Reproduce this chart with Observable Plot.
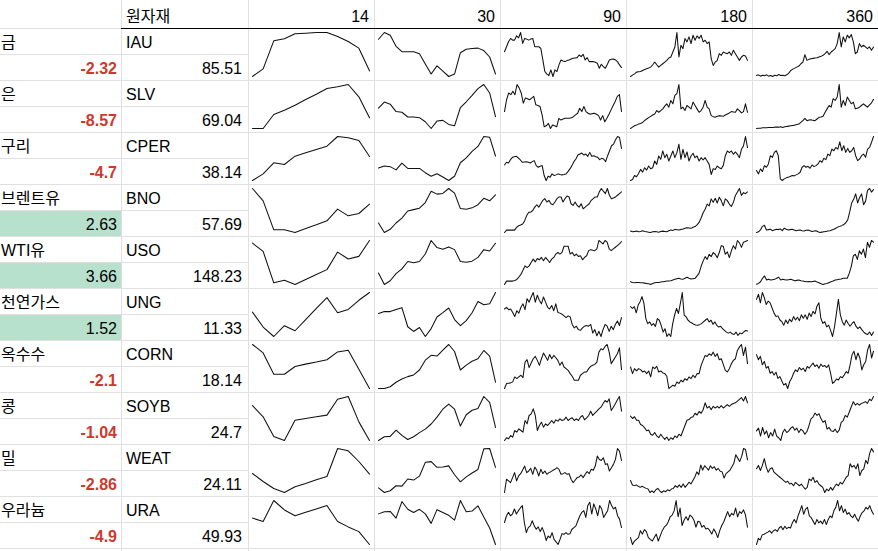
<!DOCTYPE html>
<html>
<head>
<meta charset="utf-8">
<script src="https://cdn.jsdelivr.net/npm/d3@7"></script>
<script src="https://cdn.jsdelivr.net/npm/@observablehq/plot@0.6"></script>
<style>
  body { margin: 0; background: #fff; }
  #sheet { position: relative; width: 878px; height: 551px; overflow: hidden; background: #fff; }
</style>
</head>
<body>
<div id="sheet"></div>
<script>
// ---------- data ----------
const headerLabel = "원자재";
const windows = ["14", "30", "90", "180", "360"];
const names = ["금", "은", "구리", "브렌트유", "WTI유", "천연가스", "옥수수", "콩", "밀", "우라늄"];
const changes = [-2.32, -8.57, -4.7, 2.63, 3.66, 1.52, -2.1, -1.04, -2.86, -4.9];
const tickers = ["IAU", "SLV", "CPER", "BNO", "USO", "UNG", "CORN", "SOYB", "WEAT", "URA"];
const prices = [85.51, 69.04, 38.14, 57.69, 148.23, 11.33, 18.14, 24.7, 24.11, 49.93];

// sparkline series (relative price level), one list per ticker
const spark14 = [
  [0,23,107,113,128,130,132,132,120,105,85,17],            // IAU
  [0,0,42,55,70,87,103,120,125,132,95,32],                 // SLV
  [0,20,53,48,73,83,93,103,132,128,120,72],                // CPER
  [132,95,8,8,0,12,23,35,70,50,57,85],                     // BNO
  [125,100,5,13,0,15,30,45,98,77,85,133],                  // USO
  [72,28,0,32,17,50,83,115,70,80,107,130],                 // UNG
  [130,105,42,42,65,72,78,85,108,113,57,0],                // CORN
  [103,70,12,0,60,65,70,75,122,130,55,0],                  // SOYB
  [57,33,12,0,17,27,38,48,132,125,93,55],                  // WEAT
  [78,68,130,102,85,95,105,115,68,52,38,0]                 // URA
];
const spark30 = [
  [110,129,121,90,75,75,75,69,40,12,35,20,5,12,72,82,84,85,78,60,12],
  [60,78,72,50,48,34,34,32,20,0,22,24,12,8,62,79,98,118,130,105,35],
  [38,44,42,33,52,37,37,37,25,15,22,13,3,15,53,67,85,99,127,125,72],
  [30,3,12,30,44,64,68,72,88,120,112,114,128,115,71,69,73,82,100,93,110],
  [37,3,14,35,49,71,67,71,93,133,112,107,114,106,71,69,72,83,106,102,125],
  [72,77,77,83,88,35,22,33,8,30,62,74,87,55,38,52,74,105,96,99,130],
  [2,2,7,20,29,36,41,55,83,97,95,112,128,108,55,69,80,87,111,95,20],
  [0,11,12,30,15,3,11,23,33,48,68,91,106,91,42,75,88,93,128,111,38],
  [15,2,7,21,20,40,37,48,87,89,73,74,77,52,32,46,57,67,125,126,73],
  [87,93,94,75,122,100,91,100,87,60,99,91,83,69,125,93,95,110,78,47,0]
];
const spark90 = [
  [75,90,105,115,110,110,123,117,133,100,115,113,110,113,115,90,90,90,85,50,15,7,3,20,0,20,15,35,50,47,45,48,50,53,55,56,57,65,60,67,50,57,45,45,45,43,40,25,37,30,25,37,50,52,53,50,45,35,27],
  [50,85,105,100,110,100,130,120,105,75,90,88,85,90,95,70,68,65,40,5,8,15,0,10,8,5,30,25,28,30,30,30,32,35,40,45,60,50,65,50,45,42,44,45,42,38,25,38,20,30,42,55,68,80,95,100,50],
  [47,55,53,63,70,72,73,68,62,55,56,57,55,53,57,60,45,40,43,45,15,0,13,10,20,15,17,20,18,17,18,20,27,35,45,57,65,77,80,83,77,80,73,85,73,75,72,70,63,67,65,57,75,90,105,110,123,133,130,97],
  [0,7,7,7,7,7,15,20,22,25,35,50,60,60,65,75,82,75,85,95,100,90,95,85,82,90,100,105,105,90,100,108,105,85,80,90,80,75,85,70,75,80,85,95,100,105,105,120,130,122,115,130,110,100,102,105,110,115,120],
  [0,10,10,10,10,12,15,22,30,42,55,50,55,65,75,67,77,73,80,70,80,73,65,75,80,90,95,90,95,113,113,113,90,95,85,90,83,85,73,80,85,100,103,101,100,105,130,125,120,130,125,105,100,105,110,115,120,127],
  [80,85,78,80,70,58,75,68,85,95,78,110,100,115,128,100,120,105,95,115,100,85,80,90,75,95,70,68,65,60,55,60,57,35,25,30,20,18,25,30,32,30,35,10,20,2,15,0,20,35,30,15,30,20,35,45,32,55],
  [0,15,16,17,20,35,30,35,40,33,80,87,63,77,90,97,85,70,90,107,97,85,103,90,100,93,85,70,80,65,60,55,45,37,25,25,25,40,45,50,50,60,67,70,73,80,110,120,117,127,133,110,75,85,95,105,123,57],
  [0,8,5,15,10,30,25,35,30,25,60,50,75,80,95,75,30,45,55,40,50,45,52,60,52,62,58,65,60,62,70,60,65,68,60,65,60,70,75,62,68,75,88,75,82,88,95,100,110,120,115,125,90,100,110,122,132,88],
  [0,40,35,30,45,60,35,50,57,68,80,60,65,73,55,77,67,50,70,57,65,55,60,63,67,70,75,70,55,57,60,55,57,40,30,37,45,47,53,45,55,63,57,70,67,80,110,100,97,105,85,87,65,75,85,100,133,125,97],
  [65,85,95,85,90,105,90,100,108,115,65,35,50,55,70,55,45,52,38,50,35,12,25,20,35,15,8,0,15,32,30,35,30,32,45,50,55,70,85,95,100,80,115,125,90,120,105,85,115,105,80,90,100,130,115,105,110,85,75,50]
];
const spark180 = [
  [2,6,10,15,16,17,20,23,25,27,30,37,45,37,30,35,40,45,50,57,60,75,90,133,60,95,85,115,105,120,100,125,110,123,115,125,105,110,100,105,55,35,45,50,70,65,75,72,70,75,65,80,70,60,50,60,65,63,50],
  [2,6,10,12,15,17,20,25,30,34,38,42,45,55,50,55,60,68,75,65,85,75,100,105,132,60,65,55,70,65,60,80,70,60,50,55,65,85,65,60,40,37,35,38,40,39,38,42,45,48,52,51,50,60,55,48,52,75,50],
  [2,5,17,13,23,35,27,40,33,45,37,40,60,50,75,65,90,70,80,60,75,90,70,85,110,65,95,70,87,60,75,83,70,75,60,70,63,70,60,50,20,37,35,45,40,37,47,75,90,85,90,80,87,80,70,95,105,133,100],
  [7,5,6,7,5,6,8,6,5,4,3,5,6,5,4,6,7,6,5,8,10,9,12,11,10,12,13,15,17,16,15,18,20,25,32,45,60,70,85,80,100,90,102,88,105,95,80,100,95,85,78,90,110,120,130,110,118,115,120],
  [10,8,7,8,8,7,7,6,5,4,2,5,7,8,8,9,10,11,12,12,13,15,17,19,20,18,17,20,23,20,18,19,20,27,35,55,70,83,75,90,83,95,90,80,95,115,113,90,97,80,100,115,105,130,123,110,125,127,130],
  [90,85,90,72,95,105,120,100,55,40,45,35,40,32,55,50,35,15,25,2,10,2,40,65,85,70,100,132,65,60,50,45,42,38,36,35,37,40,45,50,55,45,50,38,45,35,30,32,25,20,15,12,15,10,8,15,5,12,10,15,20,18],
  [65,45,60,53,60,57,50,53,45,53,35,65,60,67,50,53,47,45,37,0,5,10,7,20,15,25,20,30,25,35,30,40,33,45,45,70,85,100,97,105,100,110,97,105,87,90,73,55,50,60,75,85,90,115,125,133,100,125,75],
  [72,65,70,60,60,48,45,38,30,32,20,17,25,15,10,20,12,5,12,2,10,5,15,10,20,15,30,45,60,62,68,70,80,75,85,80,90,110,95,100,90,100,95,100,95,102,95,100,105,100,105,108,110,115,120,125,115,128,110],
  [40,27,25,27,23,20,23,20,17,15,5,10,5,13,17,10,5,10,7,13,10,15,17,25,20,27,20,30,20,27,35,30,40,50,65,57,85,70,83,77,70,83,75,80,70,75,67,65,47,60,65,70,80,90,115,105,95,110,133,130,100],
  [25,5,15,20,25,45,35,48,42,25,20,15,25,35,15,30,45,55,60,70,85,90,102,132,85,110,60,75,85,75,90,85,75,55,72,70,55,60,50,52,45,35,50,40,25,45,60,70,85,100,85,95,90,110,85,100,95,105,90,55]
];
const spark360 = [
  [5,7,3,6,4,7,3,5,2,6,4,8,5,6,4,7,12,20,24,27,30,33,40,45,67,50,53,55,56,57,58,60,62,65,70,77,67,75,80,85,100,133,90,120,105,125,117,127,105,70,75,100,90,95,90,85,90,80,90],
  [2,3,3,4,4,4,5,5,5,6,6,6,7,5,7,8,9,10,11,12,14,15,20,25,32,25,27,28,26,25,30,35,36,38,50,60,70,65,90,85,95,132,65,85,70,95,85,75,80,60,62,65,70,75,70,65,72,78,88],
  [30,20,35,27,45,40,50,75,70,85,90,75,5,0,5,8,10,12,15,14,17,20,25,40,45,40,43,37,47,42,45,50,60,55,67,63,80,75,95,90,100,95,117,90,105,85,97,85,90,100,75,60,65,75,80,70,95,100,115,133],
  [3,5,10,20,23,10,11,12,8,10,12,11,13,8,15,12,10,11,12,10,8,9,10,8,7,9,10,8,6,7,8,5,3,4,5,6,7,8,10,12,15,18,20,22,25,30,38,60,85,95,110,85,100,110,80,90,120,125,115,122],
  [3,5,10,20,27,15,17,15,16,17,20,23,15,17,16,15,16,17,15,13,14,15,13,12,11,10,11,10,11,12,9,7,4,2,4,5,8,10,12,15,16,17,18,20,20,20,35,55,85,90,75,100,90,105,80,125,110,130,125],
  [110,125,100,130,115,95,105,100,85,70,60,62,50,45,35,50,40,52,45,60,50,58,48,65,55,65,52,70,60,75,68,90,100,55,40,45,30,35,20,2,30,70,110,65,45,35,50,40,32,40,45,32,25,30,22,15,10,8,15,5,15],
  [105,90,100,75,85,65,70,50,55,45,53,35,40,27,15,20,5,25,35,50,60,55,67,60,65,55,70,65,73,80,70,75,65,77,70,73,67,75,50,20,25,33,30,40,37,45,55,50,75,105,115,90,110,95,60,75,85,120,135,95,115],
  [30,38,15,40,20,30,10,25,15,35,15,10,2,25,35,25,30,38,42,32,38,25,35,30,20,28,45,65,70,82,75,80,65,55,60,35,40,30,28,35,25,32,55,60,75,70,85,100,115,105,110,105,110,112,115,110,122,118,130],
  [70,80,65,80,100,75,60,70,73,60,55,50,45,40,35,30,33,25,27,20,30,25,20,25,17,10,15,40,35,45,30,35,25,20,15,0,10,5,15,7,17,25,20,30,25,35,45,50,85,75,80,70,85,50,65,70,95,85,115,130,120],
  [2,20,15,30,32,35,38,42,35,42,45,40,50,55,45,55,48,52,50,65,75,65,85,100,115,90,105,110,85,80,70,60,75,65,70,62,75,60,75,85,80,100,110,130,100,115,95,105,90,95,85,80,90,78,70,85,95,100,110,105,115,100,90]
];
const sparkSets = [spark14, spark30, spark90, spark180, spark360];

// ---------- layout ----------
const W = 878, H = 551;
const colX = [0, 121, 248, 374, 500, 626, 752, 878];
const headerH = 28, rowH = 52, subH = 26;
const gridColor = "#e0e0e0";
const font = "'Liberation Sans', Arial, 'Noto Sans CJK KR', sans-serif";
const rowTop = i => headerH + i * rowH;

const sheet = document.getElementById("sheet");
const svg = d3.select(sheet).append("svg")
  .attr("width", W).attr("height", H)
  .style("position", "absolute").style("left", "0px").style("top", "0px")
  .attr("font-family", font).attr("font-size", 16);

// positive changes: green background
changes.forEach((v, i) => {
  if (v > 0) svg.append("rect").attr("x", 0).attr("y", rowTop(i) + subH + 1)
    .attr("width", colX[1]).attr("height", subH).attr("fill", "#b7e1cd");
});

const grid = svg.append("g").attr("shape-rendering", "crispEdges").attr("stroke-width", 1);
colX.slice(1, 7).forEach(x => grid.append("line")
  .attr("x1", x + 0.5).attr("x2", x + 0.5).attr("y1", 0).attr("y2", H).attr("stroke", gridColor));
for (let i = 1; i <= 10; i++) {
  const y = rowTop(i) + 0.5;
  grid.append("line").attr("x1", 0).attr("x2", W).attr("y1", y).attr("y2", y).attr("stroke", gridColor);
}
for (let i = 0; i < 10; i++) {
  const y = rowTop(i) + subH + 0.5;
  grid.append("line").attr("x1", 0).attr("x2", colX[2]).attr("y1", y).attr("y2", y).attr("stroke", gridColor);
}
grid.append("line").attr("x1", 0).attr("x2", colX[1]).attr("y1", headerH + 0.5).attr("y2", headerH + 0.5).attr("stroke", gridColor);
grid.append("line").attr("x1", colX[1]).attr("x2", W).attr("y1", headerH + 0.5).attr("y2", headerH + 0.5).attr("stroke", "#000");

// header text
svg.append("text").attr("x", colX[1] + 5).attr("y", 22).text(headerLabel);
windows.forEach((w, c) => svg.append("text").attr("x", colX[c + 3] - 5).attr("y", 22)
  .attr("text-anchor", "end").text(w));

// row text
names.forEach((n, i) => {
  svg.append("text").attr("x", 1).attr("y", rowTop(i) + 20).text(n);
  const v = changes[i];
  svg.append("text").attr("x", colX[1] - 4).attr("y", rowTop(i) + 46).attr("text-anchor", "end")
    .attr("font-weight", v < 0 ? "bold" : "normal").attr("fill", v < 0 ? "#cc3a2d" : "#000")
    .text(String(v));
  svg.append("text").attr("x", colX[1] + 5).attr("y", rowTop(i) + 20).text(tickers[i]);
  svg.append("text").attr("x", colX[2] - 6).attr("y", rowTop(i) + 46).attr("text-anchor", "end")
    .text(String(prices[i]));
});

// sparklines
sparkSets.forEach((set, c) => set.forEach((vals, r) => {
  const p = Plot.plot({
    width: colX[c + 3] - colX[c + 2], height: rowH,
    marginLeft: 4, marginRight: 5, marginTop: 4, marginBottom: 4,
    x: {axis: null}, y: {axis: null},
    style: {background: "transparent", overflow: "visible"},
    marks: [Plot.lineY(vals, {stroke: "#111", strokeWidth: 1.05})]
  });
  p.style.position = "absolute";
  p.style.left = colX[c + 2] + "px";
  p.style.top = rowTop(r) + "px";
  sheet.appendChild(p);
}));
</script>
</body>
</html>
